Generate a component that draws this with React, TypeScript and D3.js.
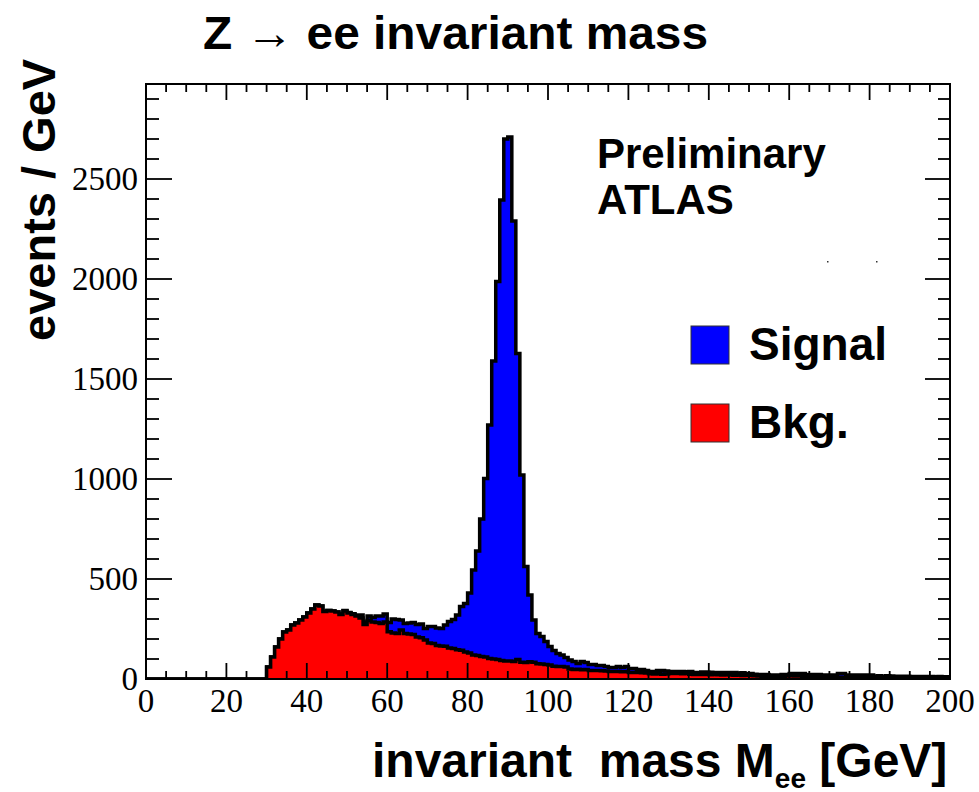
import React from "react";
import * as d3 from "d3";

// 1 GeV bins, lower edges 0..199
const binLow: number[] = d3.range(0, 200, 1);

// Background (Bkg.) events / GeV per bin
const bkg: number[] = [
  0,0,0,0,0,0,0,0,0,0, 0,0,0,0,0,0,0,0,0,0, 0,0,0,0,0,0,0,0,0,0,
  60,110,160,200,235,245,270,280,295,310,330,350,370,365,338,342,340,335,322,340,330,322,315,305,272,292,285,282,278,285,
  236,230,228,245,228,225,222,210,206,195,180,178,167,165,164,155,152,146,144,135,130,120,118,113,110,102,100,98,92,90,90,88,98,84,82,86,84,76,75,72,
  70,64,62,62,60,50,48,49,46,47,43,42,42,41,40,38,37,38,36,36,33,32,33,31,30,26,25,26,24,25,28,27,28,26,27,24,23,22,23,22,
  21,22,21,20,21,20,19,20,18,19,17,16,15,14,13,12,12,13,14,15,16,15,16,14,13,12,11,10,10,9,9,10,9,8,8,8,7,8,7,7,
  6,6,6,5,6,5,5,5,4,5,4,4,4,4,3,4,3,3,3,3,
];

// Signal (Z -> ee) events / GeV per bin
const signal: number[] = [
  0,0,0,0,0,0,0,0,0,0, 0,0,0,0,0,0,0,0,0,0, 0,0,0,0,0,0,0,0,0,0,
  0,0,0,0,0,0,0,0,0,0,0,0,0,0,0,0,0,0,3,3,3,4,5,15,13,23,23,33,37,40,
  46,70,70,50,50,55,60,63,69,58,82,84,88,88,106,132,146,174,218,243,300,425,522,687,893,1168,1490,1889,2303,2610,2620,2202,1530,936,480,334,211,152,137,115,
  92,78,66,58,48,45,39,29,41,35,30,31,25,26,22,19,20,24,21,26,20,21,15,17,12,11,12,16,18,15,9,11,9,11,9,13,9,11,12,13,
  13,11,11,13,11,12,13,10,13,9,11,8,8,9,10,8,8,7,9,8,12,13,11,14,10,11,12,13,10,11,11,10,19,19,12,12,13,12,13,13,
  14,9,10,9,10,10,9,9,10,9,9,9,8,8,9,8,8,9,8,8,
];

const xMajorTicks: number[] = [0, 20, 40, 60, 80, 100, 120, 140, 160, 180, 200];
const yMajorTicks: number[] = [0, 500, 1000, 1500, 2000, 2500];

const W = 979, H = 792;
const L = 146, R = 950, T = 84, B = 679;

export default function App() {
  const x = d3.scaleLinear().domain([0, 200]).range([L, R]);
  const y = d3.scaleLinear().domain([0, 2975]).range([B, T]);

  const rows = binLow.map((lo, i) => ({ lo, bkg: bkg[i], signal: signal[i] }));
  const stacked = d3.stack<any>().keys(["bkg", "signal"])(rows);

  const toPts = (layer: any[]) => {
    const pts = layer.map((d: any, i: number) => [binLow[i], d[1]] as [number, number]);
    pts.push([200, 0]);
    return pts;
  };
  const area = d3.area<[number, number]>()
    .x(d => x(d[0])).y0(y(0)).y1(d => y(d[1])).curve(d3.curveStepAfter);
  const line = d3.line<[number, number]>()
    .x(d => x(d[0])).y(d => y(d[1])).curve(d3.curveStepAfter);

  const totalPts = toPts(stacked[1]);
  const bkgPts = toPts(stacked[0]);

  const xMinor = d3.range(0, 200.001, 5).filter(v => !xMajorTicks.includes(v));
  const yMinor = d3.range(0, 2975, 100).filter(v => !yMajorTicks.includes(v));

  const sans = "'Liberation Sans', Arial, Helvetica, sans-serif";
  const serif = "'Liberation Serif', 'Times New Roman', serif";

  return (
    <svg width={W} height={H} style={{ position: "absolute", left: 0, top: 0, background: "#fff" }}>
      <defs>
        <clipPath id="plotclip">
          <rect x={L} y={T} width={R - L} height={B - T} />
        </clipPath>
      </defs>
      <rect x={0} y={0} width={W} height={H} fill="#fff" />
      <g clipPath="url(#plotclip)">
        <path d={area(totalPts) || ""} fill="#0000ff" />
        <path d={line(totalPts) || ""} fill="none" stroke="#000" strokeWidth={3.5} strokeLinejoin="miter" />
        <path d={area(bkgPts) || ""} fill="#ff0000" />
        <path d={line(bkgPts) || ""} fill="none" stroke="#000" strokeWidth={3.5} strokeLinejoin="miter" />
      </g>

      {/* frame */}
      <rect x={L} y={T} width={R - L} height={B - T} fill="none" stroke="#000" strokeWidth={2} />

      {/* ticks on all four sides */}
      <g stroke="#000" strokeWidth={1.8}>
        {xMajorTicks.map(v => (
          <g key={"xm" + v}>
            <line x1={x(v)} x2={x(v)} y1={B} y2={B - 16} />
            <line x1={x(v)} x2={x(v)} y1={T} y2={T + 16} />
          </g>
        ))}
        {xMinor.map(v => (
          <g key={"xn" + v}>
            <line x1={x(v)} x2={x(v)} y1={B} y2={B - 8} />
            <line x1={x(v)} x2={x(v)} y1={T} y2={T + 8} />
          </g>
        ))}
        {yMajorTicks.map(v => (
          <g key={"ym" + v}>
            <line x1={L} x2={L + 26} y1={y(v)} y2={y(v)} />
            <line x1={R} x2={R - 25} y1={y(v)} y2={y(v)} />
          </g>
        ))}
        {yMinor.map(v => (
          <g key={"yn" + v}>
            <line x1={L} x2={L + 13} y1={y(v)} y2={y(v)} />
            <line x1={R} x2={R - 12} y1={y(v)} y2={y(v)} />
          </g>
        ))}
      </g>

      {/* tick labels */}
      <g fontFamily={serif} fontSize={33} fill="#000">
        {xMajorTicks.map(v => (
          <text key={"xl" + v} x={x(v)} y={712} textAnchor="middle">{v}</text>
        ))}
        {yMajorTicks.map(v => (
          <text key={"yl" + v} x={L - 8} y={y(v) + 11} textAnchor="end">{v}</text>
        ))}
      </g>

      {/* titles */}
      <text x={203} y={49} fontFamily={sans} fontWeight="bold" fontSize={47} fill="#000"
        textLength={505} lengthAdjust="spacingAndGlyphs">Z → ee invariant mass</text>
      <text transform="translate(55,341) rotate(-90)" fontFamily={sans} fontWeight="bold" fontSize={47} fill="#000">events / GeV</text>
      <text x={372} y={777} fontFamily={sans} fontWeight="bold" fontSize={48} fill="#000" style={{ whiteSpace: "pre" }}>
        invariant  mass M<tspan fontSize={28} dy={11}>ee</tspan><tspan dy={-11}> [GeV]</tspan>
      </text>

      <text x={597} y={168} fontFamily={sans} fontWeight="bold" fontSize={42} fill="#000">Preliminary</text>
      <text x={597} y={214} fontFamily={sans} fontWeight="bold" fontSize={42} fill="#000">ATLAS</text>

      {/* legend */}
      <rect x={691} y={326} width={38} height={38} fill="#0000ff" stroke="#333" strokeWidth={1} />
      <text x={749} y={360} fontFamily={sans} fontWeight="bold" fontSize={46} fill="#000">Signal</text>
      <rect x={691} y={404} width={38} height={38} fill="#ff0000" stroke="#333" strokeWidth={1} />
      <text x={749} y={438} fontFamily={sans} fontWeight="bold" fontSize={46} fill="#000">Bkg.</text>

      <rect x={827} y={261} width={1.5} height={1.5} fill="#333" />
      <rect x={876} y={261} width={1.5} height={1.5} fill="#333" />
    </svg>
  );
}
